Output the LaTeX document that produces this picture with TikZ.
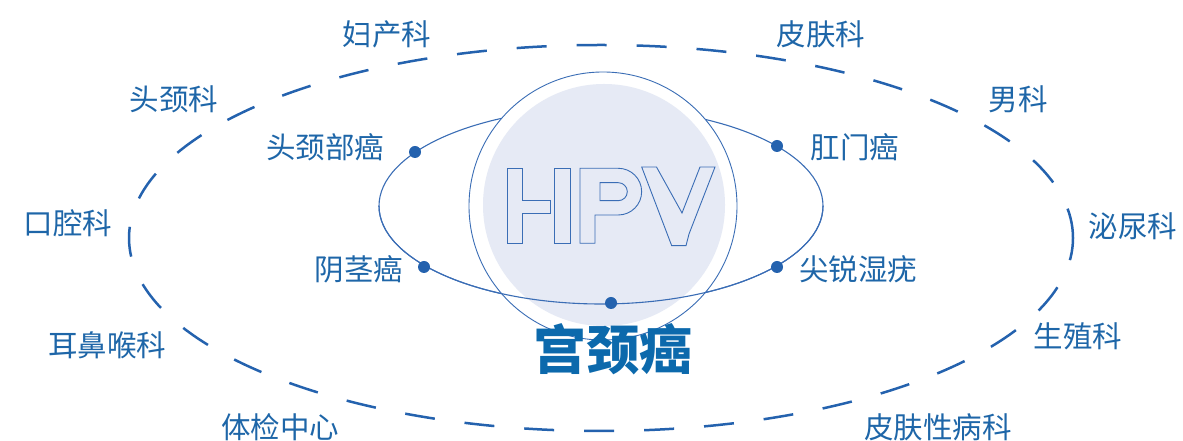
\documentclass[tikz,border=0pt]{standalone}
\usepackage{fontspec}
\newfontfamily\cjk{Noto Sans CJK SC}
\definecolor{lblue}{HTML}{1E66A8}
\definecolor{dblue}{HTML}{2462AE}
\definecolor{cblue}{HTML}{3A6DB5}
\definecolor{cfill}{HTML}{E6EAF5}
\definecolor{tblue}{HTML}{0C69AC}
\tikzset{
  lbl/.style={font=\cjk\fontsize{29.5}{30}\selectfont, text=lblue, inner sep=0pt, anchor=center},
  dot/.style={circle, fill=dblue, inner sep=0pt, minimum size=12pt},
  orbit/.style={draw=cblue, line width=1.1pt},
  hpvstroke/.style={draw=cblue, line width=0.9pt, line join=miter},
}
\begin{document}
\begin{tikzpicture}[x=1pt,y=1pt]
\useasboundingbox (0,0) rectangle (1183,441);
% outer dashed ellipse
\draw[dblue, line width=2.5pt, dash pattern=on 30pt off 30pt] (601,203) ellipse [x radius=472, y radius=193];
% inner orbit (back)
\draw[orbit] (601,235) ellipse [x radius=222, y radius=98];
% outer circle and filled circle
\node[circle, draw=cblue, fill=white, line width=0.9pt, minimum size=268pt, inner sep=0pt] (outer) at (603,235) {};
\node[circle, fill=cfill, minimum size=242pt, inner sep=0pt] (core) at (604,236) {};
% HPV outlined letters
\draw[hpvstroke] (507.3,272.7) -- (522.7,272.7) -- (522.7,241) -- (550,241) -- (550,227.7) -- (522.7,227.7) -- (522.7,197.7) -- (507.3,197.7) -- cycle;
\draw[hpvstroke] (554.3,272.7) -- (570,272.7) -- (570,197.7) -- (554.3,197.7) -- cycle;
\draw[hpvstroke] (580,197.7) -- (580,272.7) -- (618.3,272.7) arc[start angle=90, end angle=-90, radius=23.35] -- (595,226) -- (595,197.7) -- cycle;
\draw[hpvstroke] (600,258.3) -- (618.3,258.3) arc[start angle=90, end angle=-90, radius=9] -- (600,240.3) -- cycle;
\draw[hpvstroke] (641.7,274) -- (656.5,274) -- (682,228) -- (700,274) -- (715,274) -- (689,207) -- (686,195.3) -- (671.7,195.3) -- cycle;
% inner orbit (front half)
\draw[orbit] (379,235) arc[start angle=180, end angle=360, x radius=222, y radius=98];
% dots on the orbit
\node[dot] (d1) at (415,289) {};
\node[dot] (d2) at (777,295) {};
\node[dot] (d3) at (424,174) {};
\node[dot] (d4) at (777,174) {};
\node[dot] (d5) at (611,138) {};
% labels
\node[lbl] (fck) at (387,407) {妇产科};
\node[lbl] (pfk) at (821,407) {皮肤科};
\node[lbl] (tjk) at (174,342) {头颈科};
\node[lbl] (nk) at (1018,342) {男科};
\node[lbl] (tjba) at (325,294) {头颈部癌};
\node[lbl] (gma) at (855,294) {肛门癌};
\node[lbl] (kqk) at (68,218) {口腔科};
\node[lbl] (mnk) at (1133,215) {泌尿科};
\node[lbl] (yja) at (359,172) {阴茎癌};
\node[lbl] (jrsy) at (858,172) {尖锐湿疣};
\node[lbl] (ebhk) at (107,96) {耳鼻喉科};
\node[lbl] (szk) at (1078,105) {生殖科};
\node[lbl] (tjzx) at (280,14) {体检中心};
\node[lbl] (pfxbk) at (938,14) {皮肤性病科};
\node[font=\cjk\bfseries\fontsize{53}{54}\selectfont, text=tblue, inner sep=0pt] (gja) at (613,92) {宫颈癌};
\end{tikzpicture}
\end{document}
